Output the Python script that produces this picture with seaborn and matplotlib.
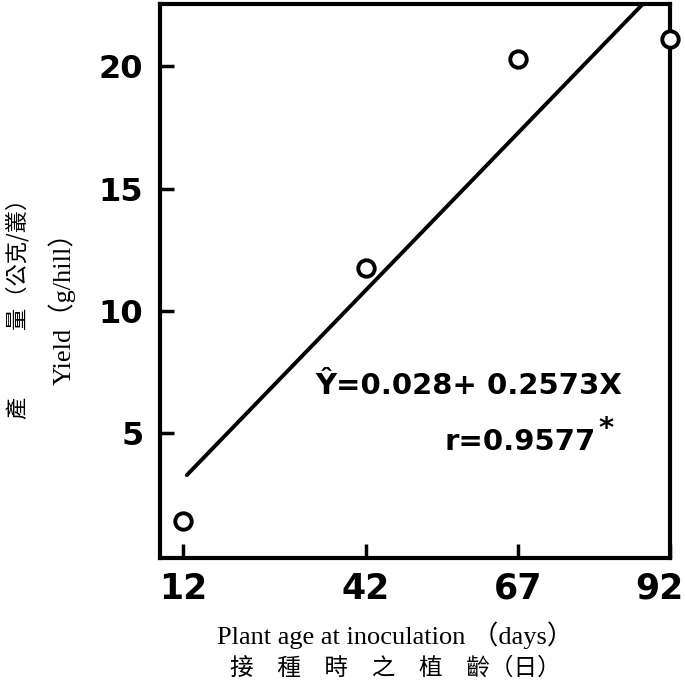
import matplotlib
matplotlib.use("Agg")
import matplotlib.pyplot as plt
import matplotlib.transforms as mtransforms
import seaborn as sns
import pandas as pd
import numpy as np

# Data
plant_age = [12, 42, 67, 92]
yield_g = [1.4, 11.75, 20.3, 21.1]
x_ticks = [12, 42, 67, 92]
y_ticks = [5, 10, 15, 20]
intercept = 0.028
slope = 0.2573
line_x = [12.6, 92]

sns.set_theme(style="white")
plt.rcParams['font.family'] = ['DejaVu Sans', 'Noto Sans CJK TC']
plt.rcParams['text.color'] = 'black'
plt.rcParams['xtick.color'] = 'black'
plt.rcParams['ytick.color'] = 'black'

fig = plt.figure(figsize=(6.85, 6.92), dpi=100)
ax = fig.add_axes([160/685, 1-558/692, (670-160)/685, (558-4)/692])

df = pd.DataFrame({"age": plant_age, "yield": yield_g})
line_df = pd.DataFrame({"age": line_x, "fit": [intercept + slope*v for v in line_x]})

sns.lineplot(data=line_df, x="age", y="fit", ax=ax, color="black", linewidth=2.8)
sns.scatterplot(data=df, x="age", y="yield", ax=ax, marker="o", s=140,
                facecolor="white", edgecolor="black", linewidth=2.8,
                clip_on=False, zorder=5)

ax.set_xlim(8.2, 92)
ax.set_ylim(-0.12, 22.55)
ax.set_xticks(x_ticks)
ax.set_yticks(y_ticks)
ax.set_xticklabels([str(v) for v in x_ticks], fontsize=25, fontweight="bold")
ax.set_yticklabels([str(v) for v in y_ticks], fontsize=23, fontweight="bold")
ax.tick_params(axis="both", direction="in", length=10, width=2.5, colors="black",
               bottom=True, left=True)
ax.tick_params(axis="x", pad=10)
ax.tick_params(axis="y", pad=12)
for sp in ax.spines.values():
    sp.set_color("black")
    sp.set_linewidth(3)

# shift last x tick label slightly left so it stays inside the figure
last = ax.get_xticklabels()[-1]
last.set_transform(last.get_transform() + mtransforms.ScaledTranslation(-11/100, 0, fig.dpi_scale_trans))

ax.set_xlabel("")
ax.set_ylabel("")

ax.text((315-160)/510, 0.31, "Ŷ=0.028+ 0.2573X", transform=ax.transAxes,
        fontsize=21, fontweight="bold", ha="left", va="center")
ax.text((445-160)/510, 0.21, "r=0.9577", transform=ax.transAxes,
        fontsize=21, fontweight="bold", ha="left", va="center")
ax.text((598-160)/510, 0.232, "*", transform=ax.transAxes,
        fontsize=21, fontweight="bold", ha="left", va="center")

serif_fam = ['Liberation Serif', 'Noto Sans CJK TC']
fig.text(395/685, 1-635/692, "Plant age at inoculation （days）",
         fontsize=19, family=serif_fam, ha="center", va="center")
fig.text(395/685, 1-668/692, "接　種　時　之　植　齡（日）",
         fontsize=17, family=['Noto Sans CJK TC'], ha="center", va="center")
fig.text(62/685, 1-302/692, "Yield（g/hill）", rotation=90,
         fontsize=19, family=serif_fam, ha="center", va="center")
fig.text(18/685, 1-303/692, "產　　　量（公克/叢）", rotation=90,
         fontsize=16, family=['Noto Sans CJK TC'], ha="center", va="center")

fig.savefig("out.png", dpi=100)
